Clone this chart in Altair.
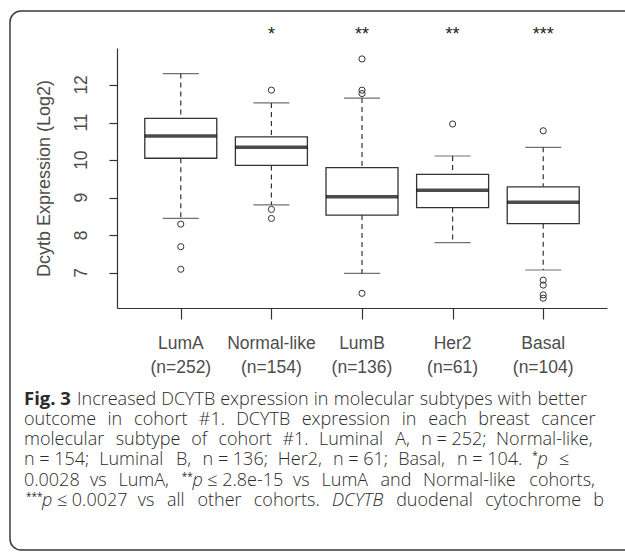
import altair as alt
import pandas as pd

# ---------------- data ----------------
subtypes = ["LumA", "Normal-like", "LumB", "Her2", "Basal"]
n_counts = [252, 154, 136, 61, 104]
stars = ["", "*", "**", "**", "***"]
whisker_low = [8.45, 8.81, 6.99, 7.81, 7.08]
q1 = [10.05, 9.86, 8.54, 8.74, 8.31]
median = [10.64, 10.34, 9.03, 9.20, 8.88]
q3 = [11.11, 10.62, 9.80, 9.62, 9.29]
whisker_high = [12.30, 11.52, 11.65, 10.11, 10.34]
outlier_subtype = ["LumA", "LumA", "LumA",
                   "Normal-like", "Normal-like", "Normal-like",
                   "LumB", "LumB", "LumB", "LumB",
                   "Her2",
                   "Basal", "Basal", "Basal", "Basal", "Basal"]
outlier_value = [8.30, 7.70, 7.10,
                 11.86, 8.69, 8.45,
                 12.69, 11.86, 11.77, 6.46,
                 10.96,
                 10.78, 6.81, 6.68, 6.42, 6.33]
y_ticks = [7, 8, 9, 10, 11, 12]

caption_lines = [
    [[("Fig. 3", "b")], "Increased", "DCYTB", "expression", "in", "molecular",
     "subtypes", "with", "better"],
    "outcome in cohort #1. DCYTB expression in each breast cancer".split(),
    ["molecular", "subtype", "of", "cohort", "#1.", "Luminal", "A,", "n = 252;",
     "Normal-like,"],
    ["n = 154;", "Luminal", "B,", "n = 136;", "Her2,", "n = 61;", "Basal,",
     "n = 104.", [("*", "sup"), ("p", "i")], "≤"],
    ["0.0028", "vs", "LumA,", [("**", "sup"), ("p", "i"), (" ≤ 2.8e-15", "n")],
     "vs", "LumA", "and", "Normal-like", "cohorts,"],
    [[("***", "sup"), ("p", "i"), (" ≤ 0.0027", "n")], "vs", "all", "other",
     "cohorts.", [("DCYTB", "i")], "duodenal", "cytochrome", "b"],
]
caption_right = [587, 595, 595, 569, 595, 604]
caption_left = [24, 24, 24, 24, 24, 26]

# ---------------- layout helpers ----------------
OX, OY = 117, 48          # plot origin in the page
PW, PH = 490, 260         # plot size
CAP_FS, BOLD_FS, SUP_FS = 18, 18.5, 10
LIGHT = 0.965             # light face is a little narrower than the regular table
LINE0, LINE_STEP = 404.5, 20.3

OS = {' ': .26, '!': .276, '#': .646, '(': .297, ')': .297, '*': .537, ',': .245,
      '-': .322, '.': .266, ';': .266, '=': .572, '≤': .572,
      'A': .633, 'B': .648, 'C': .631, 'D': .729, 'H': .742, 'I': .291, 'L': .547,
      'N': .783, 'T': .549, 'Y': .551, 'F': .525,
      'a': .556, 'b': .613, 'c': .476, 'd': .613, 'e': .561, 'f': .339, 'g': .548,
      'h': .614, 'i': .253, 'k': .525, 'l': .253, 'm': .930, 'n': .614, 'o': .604,
      'p': .613, 'r': .408, 's': .477, 't': .353, 'u': .614, 'v': .501, 'w': .778,
      'x': .524, 'y': .502}


def run_width(text, style):
    em = sum(OS.get(c, .572 if c.isdigit() else .55) for c in text)
    if style == "sup":
        return em * SUP_FS
    if style == "b":
        return em * BOLD_FS * 1.07
    factor = {"n": LIGHT, "i": 0.93}[style]
    return em * CAP_FS * factor


cap_records = []
for li, words in enumerate(caption_lines):
    runs_per_word = [[(w, "n")] if isinstance(w, str) else w for w in words]
    widths = [sum(run_width(t, s) for t, s in rw) for rw in runs_per_word]
    x0, x1 = caption_left[li], caption_right[li]
    gap = (x1 - x0 - sum(widths)) / max(len(words) - 1, 1)
    base = LINE0 + li * LINE_STEP
    x = x0
    for rw in runs_per_word:
        for t, s in rw:
            stripped = t.lstrip(" ")
            lead = run_width(t[: len(t) - len(stripped)], s)
            cap_records.append({"x": x + lead - OX,
                                "y": (base - 6 if s == "sup" else base) - OY,
                                "text": stripped, "style": s})
            x += run_width(t, s)
        x += gap
cap_df = pd.DataFrame(cap_records)

box_df = pd.DataFrame({
    "subtype": subtypes, "nlabel": [f"(n={n})" for n in n_counts], "stars": stars,
    "whisker_low": whisker_low, "q1": q1, "median": median, "q3": q3,
    "whisker_high": whisker_high,
})
out_df = pd.DataFrame({"subtype": outlier_subtype, "value": outlier_value})
tick_df = pd.DataFrame({"v": y_ticks, "label": [str(v) for v in y_ticks]})

# ---------------- encodings ----------------
INK = "#333333"
TXT = "#4d4d4d"
CHART_FONT = "Liberation Sans"

x_enc = alt.X("subtype:N", sort=subtypes,
              scale=alt.Scale(type="point", padding=0.704),
              axis=alt.Axis(labels=False, title=None, ticks=True, tickSize=11,
                            tickColor=INK, domainColor=INK, tickWidth=1.2,
                            domainWidth=1.2, grid=False))

y_scale = alt.Scale(domain=[6.07, 12.98], nice=False, zero=False)
y_axis = alt.Axis(values=y_ticks, labels=False, grid=False,
                  tickSize=8, tickColor=INK, domainColor=INK,
                  tickWidth=1.2, domainWidth=1.2,
                  title="Dcytb Expression (Log2)", titleFont=CHART_FONT,
                  titleFontSize=18, titleFontWeight="normal", titleColor=TXT,
                  titleAngle=270, titleX=-73, titleY=130, titleAlign="center",
                  titleBaseline="middle")


def Y(field):
    return alt.Y(f"{field}:Q", scale=y_scale, axis=y_axis)


base = alt.Chart(box_df)

whisk_hi = base.mark_rule(color=INK, strokeWidth=1.2, strokeDash=[5, 4]).encode(
    x=x_enc, y=Y("whisker_high"), y2="q3")
whisk_lo = base.mark_rule(color=INK, strokeWidth=1.2, strokeDash=[5, 4]).encode(
    x=x_enc, y=Y("q1"), y2="whisker_low")
cap_hi = base.mark_tick(color=INK, size=36, thickness=1.2).encode(
    x=x_enc, y=Y("whisker_high"))
cap_lo = base.mark_tick(color=INK, size=36, thickness=1.2).encode(
    x=x_enc, y=Y("whisker_low"))
box = base.mark_bar(size=72, fill="white", stroke=INK, strokeWidth=1.3).encode(
    x=x_enc, y=Y("q1"), y2="q3")
med = base.mark_tick(color="#000000", size=72, thickness=3.5).encode(
    x=x_enc, y=Y("median"))
outl = alt.Chart(out_df).mark_point(shape="circle", filled=False, size=38,
                                    strokeWidth=1, color=INK, opacity=1).encode(
    x=x_enc, y=Y("value"))

# rotated y tick labels, placed through the y scale
ytick_lbl = alt.Chart(tick_df).mark_text(
    font=CHART_FONT, fontSize=17.5, color=TXT, angle=270, align="center",
    baseline="middle").encode(
    x=alt.value(81.5 - OX), y=Y("v"), text="label:N")

name_lbl = base.mark_text(font=CHART_FONT, fontSize=17.5, color=TXT,
                          baseline="alphabetic").encode(
    x=x_enc, y=alt.value(300.5), text="subtype:N")
n_lbl = base.mark_text(font=CHART_FONT, fontSize=17.5, color=TXT,
                       baseline="alphabetic").encode(
    x=x_enc, y=alt.value(324.5), text="nlabel:N")
star_lbl = base.mark_text(font=CHART_FONT, fontSize=18, color="#222222",
                          baseline="alphabetic").encode(
    x=x_enc, y=alt.value(-8.5), text="stars:N")

plot = alt.layer(whisk_hi, whisk_lo, cap_hi, cap_lo, box, med, outl,
                 ytick_lbl, name_lbl, n_lbl, star_lbl)

# ---------------- caption & frame ----------------
frame = alt.Chart(pd.DataFrame({"a": [1]})).mark_rect(
    fill="white", fillOpacity=0, stroke="#3a3a3a", strokeWidth=1.5,
    cornerRadius=11).encode(
    x=alt.value(10 - OX), x2=alt.value(645 - OX),
    y=alt.value(11 - OY), y2=alt.value(550 - OY))

CAP_COLOR = "#2b2b2b"
cx = alt.X("x:Q", scale=None, axis=None)
cy = alt.Y("y:Q", scale=None, axis=None)
cap_base = alt.Chart(cap_df)
cap_n = cap_base.transform_filter(alt.datum.style == "n").mark_text(
    font="Open Sans", fontSize=CAP_FS, fontWeight=300, color=CAP_COLOR,
    align="left", baseline="alphabetic").encode(x=cx, y=cy, text="text:N")
cap_b = cap_base.transform_filter(alt.datum.style == "b").mark_text(
    font="Open Sans", fontSize=BOLD_FS, fontWeight="bold", color=CAP_COLOR,
    align="left", baseline="alphabetic").encode(x=cx, y=cy, text="text:N")
cap_i = cap_base.transform_filter(alt.datum.style == "i").mark_text(
    font="Open Sans", fontSize=CAP_FS, fontStyle="italic", fontWeight=300,
    color=CAP_COLOR, align="left", baseline="alphabetic").encode(
    x=cx, y=cy, text="text:N")
cap_s = cap_base.transform_filter(alt.datum.style == "sup").mark_text(
    font="Open Sans", fontSize=SUP_FS, color=CAP_COLOR, align="left",
    baseline="alphabetic").encode(x=cx, y=cy, text="text:N")

caption = alt.layer(frame, cap_n, cap_b, cap_i, cap_s)

chart = alt.layer(plot, caption).resolve_scale(
    x="independent", y="independent"
).properties(
    width=PW, height=PH,
    padding={"left": OX, "top": OY, "right": 625 - OX - PW, "bottom": 552 - OY - PH},
    autosize=alt.AutoSizeParams(type="none"),
    background="white",
).configure_view(stroke=None)

chart.save("out.html", embed_options={"renderer": "svg", "actions": False})
